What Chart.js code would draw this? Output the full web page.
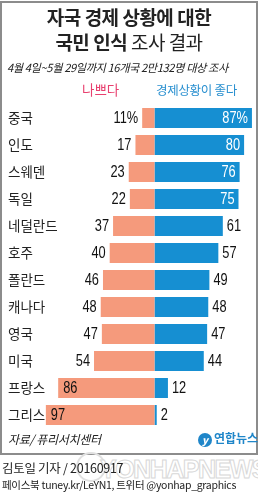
<!DOCTYPE html>
<html>
<head>
<meta charset="utf-8">
<script src="https://cdn.jsdelivr.net/npm/chart.js@4"></script>
<style>
body { margin: 0; width: 258px; height: 496px; position: relative; background: #fff; overflow: hidden;
  font-family: "Noto Sans CJK KR", "Noto Sans", sans-serif; }
#box { position: absolute; left: 0; top: 1px; width: 254px; height: 450px; border: 2px solid #8c8c8c; }
#chart { position: absolute; left: 0; top: 0; }
.t { position: absolute; white-space: nowrap; }
#title1, #title2 { left: 0; width: 258px; text-align: center; font-size: 19px; font-weight: bold; color: #222; letter-spacing: -0.5px; }
#title1 { top: 3px; }
#title2 { top: 28px; }
#title2 span { font-weight: normal; }
#sub { left: 7px; top: 59px; font-size: 11.2px; font-style: italic; color: #222; letter-spacing: -0.4px; }
#bad { left: 82px; top: 79px; font-size: 13.5px; color: #e8406f; }
#good { left: 156px; top: 80px; font-size: 12.5px; color: #2a90d0; letter-spacing: -0.3px; }
#src { left: 8px; top: 430px; font-size: 12px; font-style: italic; color: #222; letter-spacing: -0.3px; }
#logo { left: 198px; top: 429px; font-size: 12px; font-weight: bold; color: #1f86c9; }
#logo b { display: inline-block; width: 14px; height: 14px; border-radius: 7px; background: #1f86c9; color: #fff;
  font-size: 10px; text-align: center; line-height: 14px; font-style: italic; margin-right: 2px; vertical-align: -1px; }
#wm { left: 100px; top: 455px; font-family: "Liberation Sans", sans-serif; font-size: 25px; font-weight: bold; color: #fff;
  -webkit-text-stroke: 1px #d8d8d8; letter-spacing: -1.5px; }
#wmc { left: 76px; top: 452px; width: 26px; height: 26px; border: 2px solid #e0e0e0; border-radius: 15px; }
#by { left: 2px; top: 458px; font-size: 12.5px; color: #222; letter-spacing: -0.3px; }
#sns { left: 2px; top: 477px; font-size: 10.5px; color: #222; letter-spacing: -0.3px; }
</style>
</head>
<body>
<div id="box"></div>
<div class="t" id="wmc"></div>
<div class="t" id="wm">YONHAPNEWS</div>
<canvas id="chart" width="258" height="496"></canvas>
<div class="t" id="title1">자국 경제 상황에 대한</div>
<div class="t" id="title2">국민 인식 <span>조사 결과</span></div>
<div class="t" id="sub">4월 4일~5월 29일까지 16개국 2만132명 대상 조사</div>
<div class="t" id="bad">나쁘다</div>
<div class="t" id="good">경제상황이 좋다</div>
<div class="t" id="src">자료/ 퓨리서치센터</div>
<div class="t" id="logo"><b>y</b>연합뉴스</div>
<div class="t" id="by">김토일 기자 / 20160917</div>
<div class="t" id="sns">페이스북 tuney.kr/LeYN1, 트위터 @yonhap_graphics</div>
<script>
const countries = ['중국', '인도', '스웨덴', '독일', '네덜란드', '호주', '폴란드', '캐나다', '영국', '미국', '프랑스', '그리스']
const bad = [11, 17, 23, 22, 37, 40, 46, 48, 47, 54, 86, 97]
const good = [87, 80, 76, 75, 61, 57, 49, 48, 47, 44, 12, 2]

const badColor = '#f59a7c'
const goodColor = '#168fd2'

// narrow digits: squeeze the text horizontally
function narrowText(ctx, txt, x, y, align) {
    ctx.save()
    ctx.translate(x, y)
    ctx.scale(0.8, 1)
    ctx.textAlign = align
    ctx.fillText(txt, 0, 0)
    ctx.restore()
}

// country names on the left edge, values next to / inside the bars
const barLabels = {
    id: 'barLabels',
    afterDatasetsDraw(chart) {
        const ctx = chart.ctx
        const yScale = chart.scales.y
        ctx.save()
        ctx.textBaseline = 'middle'
        ctx.font = '13.5px "Noto Sans CJK KR", sans-serif'
        ctx.fillStyle = '#222'
        ctx.textAlign = 'left'
        chart.data.labels.forEach((name, i) => {
            ctx.fillText(name, 8, yScale.getPixelForTick(i))
        })

        ctx.font = '16px "Liberation Sans", sans-serif'
        chart.data.datasets.forEach((ds, di) => {
            const meta = chart.getDatasetMeta(di)
            meta.data.forEach((bar, i) => {
                const v = Math.abs(ds.data[i])
                const txt = v + (i === 0 ? '%' : '')
                if (di === 0) {
                    ctx.fillStyle = '#111'
                    if (v > 80) narrowText(ctx, txt, bar.x + 5, bar.y + 1, 'left')
                    else narrowText(ctx, txt, bar.x - 4, bar.y + 1, 'right')
                } else {
                    if (v > 70) {
                        ctx.fillStyle = '#fff'
                        narrowText(ctx, txt, bar.x - 4, bar.y + 1, 'right')
                    } else {
                        ctx.fillStyle = '#111'
                        narrowText(ctx, txt, bar.x + 4, bar.y + 1, 'left')
                    }
                }
            })
        })
        ctx.restore()
    }
}

const ctx = document.getElementById('chart').getContext('2d')
const myChart = new Chart(ctx, {
    type: 'bar',
    data: {
        labels: countries,
        datasets: [{
            label: '나쁘다',
            data: bad.map(v => -v),
            backgroundColor: badColor,
            borderWidth: 0
        }, {
            label: '경제상황이 좋다',
            data: good,
            backgroundColor: goodColor,
            borderWidth: 0
        }]
    },
    options: {
        indexAxis: 'y',
        responsive: false,
        animation: false,
        layout: { padding: { left: 42.5, right: 2.7, top: 104.5, bottom: 67.5 } },
        datasets: { bar: { categoryPercentage: 1, barPercentage: 0.74 } },
        plugins: { legend: { display: false }, tooltip: { enabled: false } },
        scales: {
            x: { display: false, stacked: true, min: -100, max: 90 },
            y: { display: false, stacked: true }
        }
    },
    plugins: [barLabels]
});
</script>
</body>
</html>
